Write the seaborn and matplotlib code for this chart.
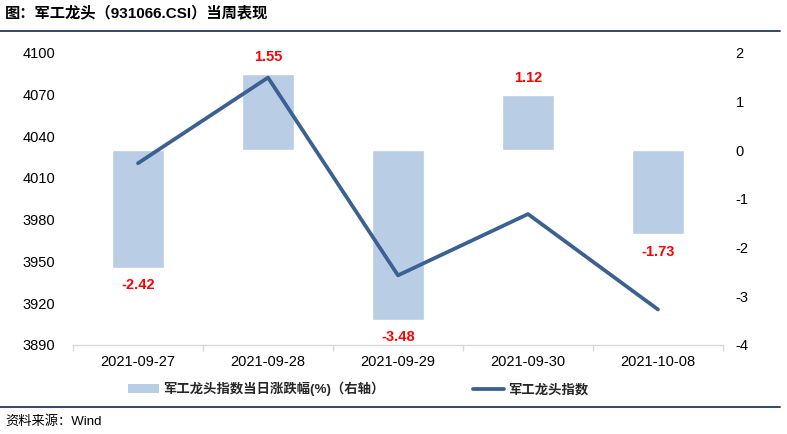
import matplotlib
matplotlib.use("Agg")
import matplotlib.pyplot as plt
import seaborn as sns
import pandas as pd
from matplotlib.patches import Patch
from matplotlib.lines import Line2D

dates = ["2021-09-27", "2021-09-28", "2021-09-29", "2021-09-30", "2021-10-08"]
pct_change = [-2.42, 1.55, -3.48, 1.12, -1.73]
index_close = [4020.5, 4082.0, 3940.0, 3984.0, 3915.5]
left_ticks = [3890, 3920, 3950, 3980, 4010, 4040, 4070, 4100]
right_ticks = [-4, -3, -2, -1, 0, 1, 2]

title = "图：军工龙头（931066.CSI）当周表现"
source = "资料来源：Wind"
bar_label = "军工龙头指数当日涨跌幅(%)（右轴）"
line_label = "军工龙头指数"

BAR_COLOR = "#B9CDE5"
LINE_COLOR = "#3B6092"
NAVY = "#1F3864"

sns.set_theme(style="white")
plt.rcParams["font.family"] = ["Liberation Sans", "Noto Sans CJK SC", "DejaVu Sans"]
plt.rcParams["axes.unicode_minus"] = False

df = pd.DataFrame({"date": dates, "pct": pct_change, "close": index_close})

fig = plt.figure(figsize=(7.87, 4.34), dpi=100)
ax1 = fig.add_axes([73 / 787, 1 - 345 / 434, 650 / 787, (345 - 52.5) / 434])

# bars (right scale) on the base axes
sns.barplot(data=df, x="date", y="pct", ax=ax1, color=BAR_COLOR, width=0.4,
            saturation=1, errorbar=None, zorder=1)

for i, v in enumerate(df["pct"]):
    ax1.annotate(f"{v:.2f}", xy=(i, v), xytext=(0, 12.5 if v > 0 else -12.5),
                 textcoords="offset points", ha="center", va="center",
                 color="#FF0000", fontsize=10.5, fontweight="bold")

# line (left scale) on twin axes
ax2 = ax1.twinx()
sns.pointplot(data=df, x="date", y="close", ax=ax2, color=LINE_COLOR,
              markers="", linestyles="-", errorbar=None)
for ln in ax2.lines:
    ln.set_linewidth(2.7)
    ln.set_solid_capstyle("round")

ax1.set_ylim(-4, 2)
ax1.set_yticks(right_ticks)
ax1.yaxis.tick_right()
ax1.yaxis.set_label_position("right")
ax1.tick_params(axis="y", which="both", left=False, right=False, labelleft=False,
                labelright=True, length=0, pad=9, labelsize=10.5, labelcolor="black")

ax2.set_ylim(3890, 4100)
ax2.set_yticks(left_ticks)
ax2.yaxis.tick_left()
ax2.tick_params(axis="y", which="both", left=False, right=False, labelleft=True,
                labelright=False, length=0, pad=13, labelsize=10.5, labelcolor="black")

for ax in (ax1, ax2):
    ax.set_xlim(-0.5, len(dates) - 0.5)
    ax.set_xlabel("")
    ax.set_ylabel("")
    for s in ("top", "left", "right"):
        ax.spines[s].set_visible(False)
    ax.spines["bottom"].set_color("#D9D9D9")
    ax.spines["bottom"].set_linewidth(1.0)
    ax.grid(False)
    ax.set_facecolor("none")

ax2.spines["bottom"].set_visible(False)
ax1.set_xticks([i for i in range(len(dates))])
ax1.set_xticklabels(dates)
ax1.tick_params(axis="x", which="major", bottom=False, length=0, pad=7,
                labelsize=10.5, labelcolor="black")
ax2.tick_params(axis="x", which="both", bottom=False, labelbottom=False)
# tick marks at category boundaries
ax1.set_xticks([i - 0.5 for i in range(len(dates) + 1)], minor=True)
ax1.tick_params(axis="x", which="minor", bottom=True, length=4, width=1.0,
                color="#D9D9D9", direction="out")

# title and rules
fig.text(5 / 787, 1 - 13 / 434, title, ha="left", va="center", fontsize=11,
         fontweight="bold", color="black")
fig.add_artist(Line2D([0, 780 / 787], [1 - 30.5 / 434, 1 - 30.5 / 434],
                      color=NAVY, linewidth=1.3))
fig.add_artist(Line2D([0, 780 / 787], [1 - 406.5 / 434, 1 - 406.5 / 434],
                      color=NAVY, linewidth=1.3))
fig.text(5 / 787, 1 - 422 / 434, source, ha="left", va="center", fontsize=9.5,
         color="black")

handles = [Patch(facecolor=BAR_COLOR, edgecolor="none"),
           Line2D([0], [0], color=LINE_COLOR, linewidth=2.7, solid_capstyle="round")]
fig.legend(handles, [bar_label, line_label], loc="center left",
           bbox_to_anchor=(128 / 787, 1 - 389 / 434), ncol=2, frameon=False,
           prop={"size": 9.6, "weight": "bold"}, handlelength=2.35, handleheight=0.6,
           handletextpad=0.3, columnspacing=6.6, borderaxespad=0, borderpad=0)

fig.savefig("out.png", dpi=100)
